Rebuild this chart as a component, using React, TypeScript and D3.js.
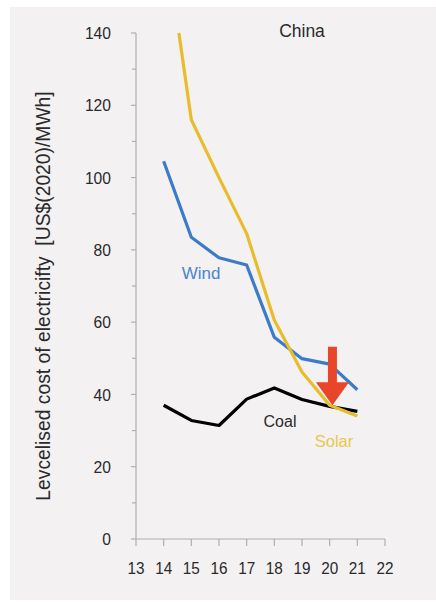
import React from "react";
import * as d3 from "d3";

const years = [14, 15, 16, 17, 18, 19, 20, 21];
const solarYears = [14.55, 15, 16, 17, 18, 19, 20, 21];
const solarValues = [140, 116, 100, 84.5, 60.5, 46.2, 37, 34];
const windValues = [104.5, 83.5, 77.8, 75.8, 55.8, 49.9, 48.4, 41.3];
const coalValues = [37, 32.8, 31.4, 38.7, 41.8, 38.6, 36.7, 35.3];
const xTicks = [13, 14, 15, 16, 17, 18, 19, 20, 21, 22];
const yTicks = [0, 20, 40, 60, 80, 100, 120, 140];
const yMinorTicks = [10, 30, 50, 70, 90, 110, 130];

const W = 436;
const H = 602;
const FONT = "'Liberation Sans', Arial, Helvetica, sans-serif";

export default function App() {
  const x = d3.scaleLinear().domain([13, 22]).range([136, 385]);
  const y = d3.scaleLinear().domain([0, 140]).range([539, 33]);
  const line = d3
    .line<[number, number]>()
    .x((d) => x(d[0]))
    .y((d) => y(d[1]));

  const solar = line(solarYears.map((yr, i) => [yr, solarValues[i]]) as [number, number][]);
  const wind = line(years.map((yr, i) => [yr, windValues[i]]) as [number, number][]);
  const coal = line(years.map((yr, i) => [yr, coalValues[i]]) as [number, number][]);

  const axisColor = "#b0b0b0";
  const textColor = "#2a2a2a";

  const tipX = x(20.1);
  const tipY = y(37);
  const headBaseY = y(43.4);
  const shaftTopY = y(53.2);
  const shaftHalf = 4.5;
  const headHalf = 16.5;
  const arrowPath =
    [
      [tipX - shaftHalf, shaftTopY],
      [tipX + shaftHalf, shaftTopY],
      [tipX + shaftHalf, headBaseY],
      [tipX + headHalf, headBaseY],
      [tipX, tipY],
      [tipX - headHalf, headBaseY],
      [tipX - shaftHalf, headBaseY],
    ]
      .map((p, i) => (i === 0 ? "M" : "L") + p[0] + "," + p[1])
      .join("") + "Z";

  return (
    <svg
      width={W}
      height={H}
      style={{ position: "absolute", left: 0, top: 0, display: "block" }}
      fontFamily={FONT}
    >
      <rect x={0} y={0} width={W} height={H} fill="#ffffff" />
      <rect x={10} y={7} width={W - 10} height={593} fill="#f3f1f2" />

      {/* y axis */}
      <line x1={x(13)} x2={x(13)} y1={y(140)} y2={y(0)} stroke={axisColor} strokeWidth={1.2} />
      {yTicks.map((t) => (
        <g key={"yt" + t}>
          <line x1={x(13) - 5} x2={x(13)} y1={y(t)} y2={y(t)} stroke={axisColor} strokeWidth={1.2} />
          <text
            transform={`translate(111, ${y(t)}) scale(0.92, 1)`}
            dy="0.36em"
            textAnchor="end"
            fontSize={17}
            fill={textColor}
          >
            {t}
          </text>
        </g>
      ))}
      {yMinorTicks.map((t) => (
        <line key={"ym" + t} x1={x(13) - 4} x2={x(13)} y1={y(t)} y2={y(t)} stroke={axisColor} strokeWidth={1.2} />
      ))}

      {/* x axis */}
      <line x1={x(13)} x2={x(22)} y1={y(0)} y2={y(0)} stroke={axisColor} strokeWidth={1.2} />
      {xTicks.map((t) => (
        <g key={"xt" + t}>
          <line x1={x(t)} x2={x(t)} y1={y(0)} y2={y(0) + 7} stroke={axisColor} strokeWidth={1.2} />
          <text
            transform={`translate(${x(t)}, 568) scale(0.9, 1)`}
            dy="0.36em"
            textAnchor="middle"
            fontSize={17}
            fill={textColor}
          >
            {t}
          </text>
        </g>
      ))}

      {/* y axis title */}
      <text
        transform={`translate(43, 296) rotate(-90)`}
        textAnchor="middle"
        dy="0.35em"
        fontSize={19.3}
        fill={textColor}
        style={{ whiteSpace: "pre" }}
      >
        {"Levcelised cost of electricifty  [US$(2020)/MWh]"}
      </text>

      {/* lines */}
      <path d={coal ?? ""} fill="none" stroke="#000000" strokeWidth={3.2} strokeLinejoin="round" />
      <path d={wind ?? ""} fill="none" stroke="#3b7bc8" strokeWidth={3.2} strokeLinejoin="round" />
      <path d={solar ?? ""} fill="none" stroke="#e8bd2c" strokeWidth={3.2} strokeLinejoin="round" />

      {/* arrow */}
      <path d={arrowPath} fill="#e8452b" />

      {/* labels */}
      <text x={302} y={31} dy="0.35em" textAnchor="middle" fontSize={17.5} fill={textColor}>
        China
      </text>
      <text x={201} y={273} dy="0.35em" textAnchor="middle" fontSize={17} fill="#4a86cc">
        Wind
      </text>
      <text x={280} y={421} dy="0.35em" textAnchor="middle" fontSize={16} fill={textColor}>
        Coal
      </text>
      <text x={334} y={441} dy="0.35em" textAnchor="middle" fontSize={16.5} fill="#e8c84a">
        Solar
      </text>
    </svg>
  );
}
